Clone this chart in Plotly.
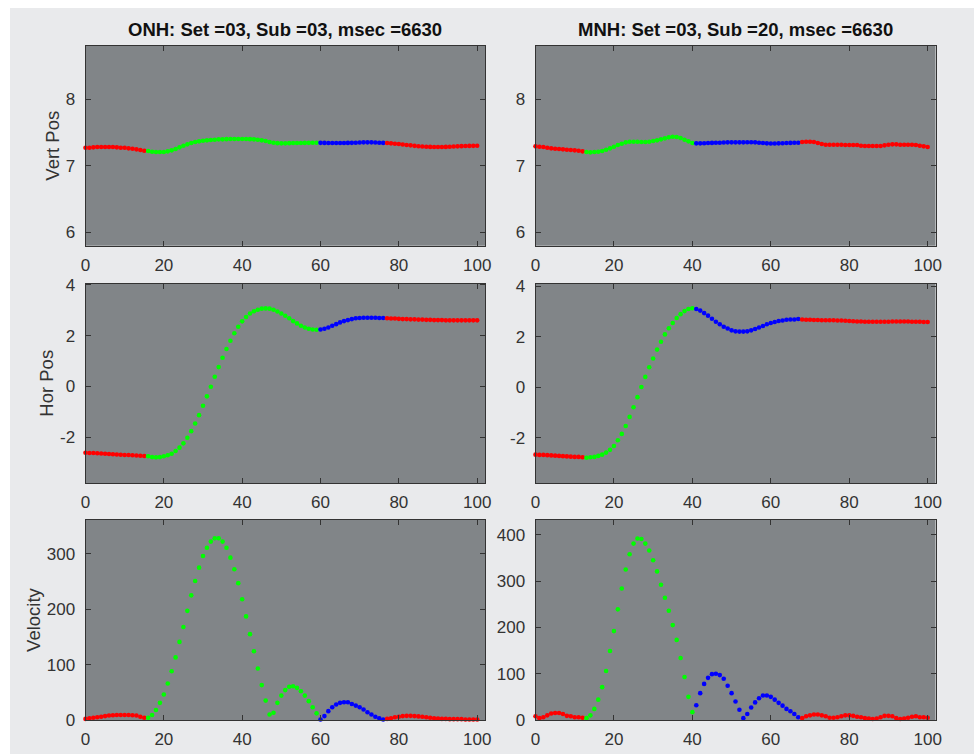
import plotly.graph_objects as go

# Sample index (ms bins) shared by every panel
SAMPLES = list(range(101))

# Phase colours: fixation, saccade, post-saccadic oscillation, fixation
PHASE_COLORS = ["#ff0000", "#00ff00", "#0000ff", "#ff0000"]
ONH_PHASE_STARTS = [0, 16, 60, 77]
MNH_PHASE_STARTS = [0, 13, 41, 68]

TITLES = ["ONH: Set =03, Sub =03, msec =6630", "MNH: Set =03, Sub =20, msec =6630"]
ROW_LABELS = ["Vert Pos", "Hor Pos", "Velocity"]

ONH_VERT = [
    7.27, 7.27, 7.275, 7.28, 7.28, 7.28, 7.28, 7.28, 7.275, 7.27, 7.27, 7.26, 7.255, 7.245, 7.235, 7.225,
    7.22, 7.21, 7.205, 7.205, 7.205, 7.215, 7.23, 7.25, 7.275, 7.30, 7.32, 7.34, 7.355, 7.365, 7.375, 7.38,
    7.385, 7.39, 7.395, 7.395, 7.398, 7.40, 7.40, 7.40, 7.40, 7.40, 7.398, 7.395, 7.39, 7.38, 7.37, 7.355,
    7.345, 7.338, 7.335, 7.335, 7.338, 7.34, 7.34, 7.34, 7.342, 7.343, 7.345, 7.345,
    7.343, 7.342, 7.34, 7.34, 7.34, 7.34, 7.34, 7.342, 7.343, 7.345, 7.347, 7.35, 7.35, 7.35, 7.348, 7.345, 7.342,
    7.34, 7.335, 7.33, 7.325, 7.318, 7.31, 7.305, 7.298, 7.292, 7.288, 7.285, 7.282, 7.28, 7.28, 7.28, 7.282,
    7.285, 7.288, 7.29, 7.293, 7.295, 7.297, 7.298, 7.30,
]
ONH_HOR = [
    -2.61, -2.62, -2.62, -2.63, -2.64, -2.65, -2.66, -2.67, -2.68, -2.69, -2.70, -2.70, -2.71, -2.72, -2.73, -2.74,
    -2.75, -2.78, -2.79, -2.78, -2.75, -2.71, -2.65, -2.54, -2.41, -2.24, -2.02, -1.76, -1.46, -1.13, -0.76, -0.39,
    -0.01, 0.38, 0.76, 1.13, 1.47, 1.80, 2.09, 2.35, 2.56, 2.73, 2.87, 2.96, 3.02, 3.06, 3.07, 3.06, 3.02, 2.95,
    2.87, 2.78, 2.68, 2.57, 2.48, 2.39, 2.32, 2.27, 2.24, 2.23,
    2.24, 2.27, 2.32, 2.39, 2.45, 2.52, 2.57, 2.61, 2.65, 2.68, 2.69, 2.70, 2.70, 2.70, 2.70, 2.69, 2.69,
    2.68, 2.67, 2.67, 2.66, 2.65, 2.65, 2.64, 2.64, 2.63, 2.63, 2.62, 2.62, 2.61, 2.61, 2.61, 2.60, 2.60, 2.60,
    2.60, 2.60, 2.60, 2.60, 2.60, 2.60,
]
ONH_VEL = [
    2, 3, 4, 5, 6, 7, 8, 8.5, 9, 9, 9, 9, 8.5, 8, 6, 4,
    4, 9, 18, 31, 46, 66, 88, 113, 141, 168, 197, 225, 251, 275, 296, 311, 322, 328, 328, 322, 311, 293,
    272, 247, 218, 187, 155, 124, 93, 63, 35, 10, 13, 31, 44, 54, 60, 61, 58, 52, 44, 34, 23, 12,
    1, 7, 16, 23, 28, 31, 32, 32, 29, 26, 23, 19, 14, 10, 6, 3, 1,
    2, 3, 5, 6, 7, 7.5, 7.5, 7, 6.5, 6, 5, 4, 3, 2.5, 2, 2, 1.5, 1.5, 1.5, 1.5, 1, 1, 1, 1,
]

MNH_VERT = [
    7.29, 7.285, 7.28, 7.27, 7.26, 7.255, 7.25, 7.245, 7.24, 7.235, 7.23, 7.225, 7.215,
    7.205, 7.20, 7.205, 7.21, 7.22, 7.24, 7.26, 7.285, 7.31, 7.33, 7.35, 7.36, 7.36, 7.36, 7.355, 7.355,
    7.36, 7.37, 7.38, 7.395, 7.41, 7.425, 7.435, 7.43, 7.415, 7.39, 7.365, 7.34,
    7.335, 7.335, 7.337, 7.34, 7.342, 7.345, 7.345, 7.347, 7.35, 7.35, 7.35, 7.35, 7.35, 7.352, 7.352,
    7.35, 7.345, 7.34, 7.335, 7.333, 7.333, 7.335, 7.337, 7.34, 7.342, 7.345, 7.345,
    7.355, 7.36, 7.36, 7.355, 7.34, 7.325, 7.315, 7.315, 7.315, 7.315, 7.315, 7.31, 7.31, 7.31, 7.31, 7.30,
    7.295, 7.295, 7.295, 7.295, 7.295, 7.305, 7.315, 7.32, 7.32, 7.315, 7.315, 7.315, 7.315, 7.31, 7.30,
    7.29, 7.28,
]
MNH_HOR = [
    -2.66, -2.67, -2.67, -2.68, -2.69, -2.70, -2.71, -2.72, -2.73, -2.74, -2.75, -2.75, -2.76,
    -2.78, -2.76, -2.75, -2.71, -2.66, -2.58, -2.47, -2.32, -2.09, -1.84, -1.53, -1.17, -0.79, -0.39,
    0.01, 0.41, 0.79, 1.14, 1.49, 1.80, 2.09, 2.33, 2.54, 2.74, 2.89, 3.01, 3.09, 3.12,
    3.09, 3.03, 2.93, 2.83, 2.71, 2.59, 2.49, 2.39, 2.32, 2.25, 2.21, 2.20, 2.20, 2.21, 2.25, 2.30, 2.36,
    2.42, 2.49, 2.54, 2.58, 2.62, 2.64, 2.67, 2.68, 2.68, 2.70,
    2.68, 2.67, 2.67, 2.66, 2.66, 2.65, 2.65, 2.65, 2.65, 2.64, 2.64, 2.63, 2.62, 2.61, 2.60, 2.60, 2.59,
    2.59, 2.59, 2.59, 2.59, 2.59, 2.59, 2.60, 2.60, 2.60, 2.60, 2.60, 2.59, 2.59, 2.59, 2.58, 2.58,
]
MNH_VEL = [
    8, 4, 6, 10, 14, 15, 15, 13, 9, 8, 6, 6, 5,
    4, 10, 24, 44, 71, 106, 149, 192, 239, 284, 325, 358, 381, 392, 391, 381, 366, 345, 321, 292, 264,
    236, 205, 173, 134, 93, 50, 17,
    32, 58, 78, 91, 99, 100, 97, 89, 74, 58, 40, 22, 4, 13, 27, 38, 47, 53, 53, 50, 44, 37, 31, 24, 19, 13, 6,
    4, 8, 10, 12, 12, 10, 8, 5, 5, 6, 8, 10, 10, 9, 7, 6, 4, 3, 2, 3, 6, 9, 9, 8, 4, 2, 3, 5, 7, 8, 6, 6, 5,
]

PANELS = [
    [(ONH_VERT, ONH_PHASE_STARTS), (MNH_VERT, MNH_PHASE_STARTS)],
    [(ONH_HOR, ONH_PHASE_STARTS), (MNH_HOR, MNH_PHASE_STARTS)],
    [(ONH_VEL, ONH_PHASE_STARTS), (MNH_VEL, MNH_PHASE_STARTS)],
]
Y_RANGES = [
    [[5.8, 8.8], [5.8, 8.8]],
    [[-3.8, 4.05], [-3.78, 4.1]],
    [[0, 361], [0, 432]],
]
Y_TICKS = [
    [[6, 7, 8], [6, 7, 8]],
    [[-2, 0, 2, 4], [-2, 0, 2, 4]],
    [[0, 100, 200, 300], [0, 100, 200, 300, 400]],
]
X_TICKS = [0, 20, 40, 60, 80, 100]

W, H = 974, 754
COL_PX = [(85.5, 485.0), (535.5, 935.5)]
ROW_PX = [(45.7, 245.7), (283.5, 483.0), (520.0, 720.0)]

FONT = "Liberation Sans, Arial, Helvetica, sans-serif"
AX_COLOR = "#333333"


def tick_text(vals):
    # plain hyphen for negatives
    return [f"{v:g}" for v in vals]


fig = go.Figure()
layout = {}

for r in range(3):
    for c in range(2):
        idx = r * 2 + c + 1
        xa = "x" if idx == 1 else f"x{idx}"
        ya = "y" if idx == 1 else f"y{idx}"
        values, starts = PANELS[r][c]
        bounds = starts + [len(SAMPLES)]
        for p in range(4):
            lo, hi = bounds[p], bounds[p + 1]
            fig.add_trace(go.Scatter(
                x=SAMPLES[lo:hi], y=values[lo:hi], mode="markers",
                marker=dict(color=PHASE_COLORS[p], size=4.6, line=dict(width=0)),
                cliponaxis=False, showlegend=False, xaxis=xa, yaxis=ya,
            ))
        common = dict(
            showline=True, linecolor=AX_COLOR, linewidth=1, mirror="allticks",
            ticks="inside", ticklen=5, tickcolor=AX_COLOR, tickwidth=1,
            showgrid=False, zeroline=False, automargin=False,
            tickfont=dict(family=FONT, size=17, color=AX_COLOR),
        )
        x0, x1 = COL_PX[c]
        top, bot = ROW_PX[r]
        layout["xaxis" if idx == 1 else f"xaxis{idx}"] = dict(
            common, domain=[x0 / W, x1 / W], range=[0, 102],
            tickvals=X_TICKS, ticktext=tick_text(X_TICKS),
            anchor=ya, ticklabelstandoff=4,
        )
        yax = dict(
            common, domain=[1 - bot / H, 1 - top / H], range=Y_RANGES[r][c],
            tickvals=Y_TICKS[r][c], ticktext=tick_text(Y_TICKS[r][c]),
            anchor=xa, ticklabelstandoff=6,
        )
        if c == 0:
            yax["title"] = dict(text=ROW_LABELS[r], standoff=1,
                                font=dict(family=FONT, size=18.5, color=AX_COLOR))
        layout["yaxis" if idx == 1 else f"yaxis{idx}"] = yax

annotations = []
for c in range(2):
    x0, x1 = COL_PX[c]
    annotations.append(dict(
        text=f"<b>{TITLES[c]}</b>", x=(x0 + x1) / 2 / W, y=1 - 30 / H,
        xref="paper", yref="paper", xanchor="center", yanchor="middle", showarrow=False,
        font=dict(family=FONT, size=18.5, color="#111111"),
    ))

# white strips framing the light-grey figure window
shapes = [
    dict(type="rect", xref="paper", yref="paper", x0=0, x1=10 / W, y0=0, y1=1,
         fillcolor="white", line=dict(width=0), layer="below"),
    dict(type="rect", xref="paper", yref="paper", x0=0, x1=1, y0=1 - 8 / H, y1=1,
         fillcolor="white", line=dict(width=0), layer="below"),
]

fig.update_layout(
    **layout,
    width=W, height=H, autosize=False,
    margin=dict(l=0, r=0, t=0, b=0, pad=0, autoexpand=False),
    paper_bgcolor="#e9eaec", plot_bgcolor="#818588",
    annotations=annotations, shapes=shapes,
    font=dict(family=FONT),
)

fig.write_html("out.html")
